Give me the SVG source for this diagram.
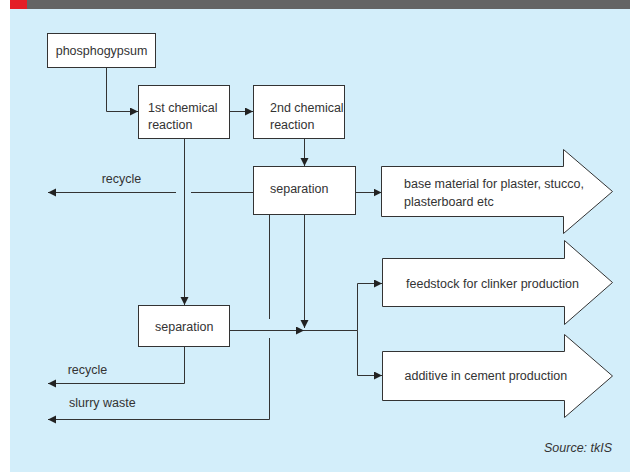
<svg xmlns="http://www.w3.org/2000/svg" width="630" height="472" viewBox="0 0 630 472">
<style>
.box{fill:#fff;stroke:#333;stroke-width:1}
.t{font-family:"Liberation Sans",Arial,sans-serif;font-size:12.5px;fill:#333}
.c{fill:none;stroke:#333;stroke-width:1}
</style>
<defs>
<marker id="ah" markerWidth="9" markerHeight="9" refX="8" refY="4" orient="auto" markerUnits="userSpaceOnUse">
<path d="M0,0 L8,4 L0,8 Z" fill="#222"/>
</marker>
</defs>
<rect x="0" y="0" width="630" height="472" fill="#fff"/>
<rect x="10" y="9" width="620" height="463" fill="#d3eefa"/>
<rect x="27" y="0" width="603" height="9" fill="#646464"/>
<rect x="10" y="0" width="17" height="9" fill="#e41e26"/>

<g id="connectors">
<path class="c" d="M106.5,67 V111.5 H138" marker-end="url(#ah)"/>
<path class="c" d="M229,111.5 H253" marker-end="url(#ah)"/>
<path class="c" d="M304.5,138.5 V166" marker-end="url(#ah)"/>
<path class="c" d="M355,192.5 H381.5" marker-end="url(#ah)"/>
<path class="c" d="M253,192.5 H191"/>
<path class="c" d="M176,192.5 H48" marker-end="url(#ah)"/>
<path class="c" d="M184.5,138.5 V305" marker-end="url(#ah)"/>
<path class="c" d="M304.5,214 V328" marker-end="url(#ah)"/>
<path class="c" d="M229,330.5 H304" marker-end="url(#ah)"/>
<path class="c" d="M304,330.5 H357.5"/>
<path class="c" d="M357.5,330.5 V283.5 H382" marker-end="url(#ah)"/>
<path class="c" d="M357.5,330.5 V375.5 H382" marker-end="url(#ah)"/>
<path class="c" d="M269.5,214 V319"/>
<path class="c" d="M269.5,338 V419.5 H48" marker-end="url(#ah)"/>
<path class="c" d="M184.5,346.5 V383.5 H48" marker-end="url(#ah)"/>
</g>

<g id="phosphogypsum">
<rect class="box" x="47.5" y="33.5" width="108" height="34"/>
<text class="t" x="55.7" y="54.5">phosphogypsum</text>
</g>
<g id="reaction1">
<rect class="box" x="138.5" y="85.5" width="91" height="53"/>
<text class="t" x="148" y="112">1st chemical</text>
<text class="t" x="148" y="129.3">reaction</text>
</g>
<g id="reaction2">
<rect class="box" x="253.5" y="85.5" width="91" height="53"/>
<text class="t" x="270" y="112">2nd chemical</text>
<text class="t" x="270" y="129.3">reaction</text>
</g>
<g id="separation1">
<rect class="box" x="253.5" y="166.5" width="102" height="48"/>
<text class="t" x="270" y="193">separation</text>
</g>
<g id="separation2">
<rect class="box" x="138.5" y="305.5" width="91" height="41"/>
<text class="t" x="155" y="330.5">separation</text>
</g>
<g id="out-plaster">
<path class="box" d="M381.5,166.5 H563.5 V149.5 L612.5,191.5 L563.5,233.5 V216.5 H381.5 Z"/>
<text class="t" x="404" y="187.5">base material for plaster, stucco,</text>
<text class="t" x="404" y="205.5">plasterboard etc</text>
</g>
<g id="out-clinker">
<path class="box" d="M382.5,258.5 H564.5 V240.5 L612.5,282.5 L564.5,324.5 V306.5 H382.5 Z"/>
<text class="t" x="406" y="287.5">feedstock for clinker production</text>
</g>
<g id="out-cement">
<path class="box" d="M382.5,351.5 H564.5 V334.5 L612.5,376 L564.5,417.5 V400.5 H382.5 Z"/>
<text class="t" x="404.5" y="379.5">additive in cement production</text>
</g>
<g id="labels">
<text class="t" x="101.7" y="183">recycle</text>
<text class="t" x="67.7" y="373.5">recycle</text>
<text class="t" x="69" y="407.3">slurry waste</text>
<text class="t" x="544" y="452" font-style="italic">Source: tkIS</text>
</g>
</svg>
